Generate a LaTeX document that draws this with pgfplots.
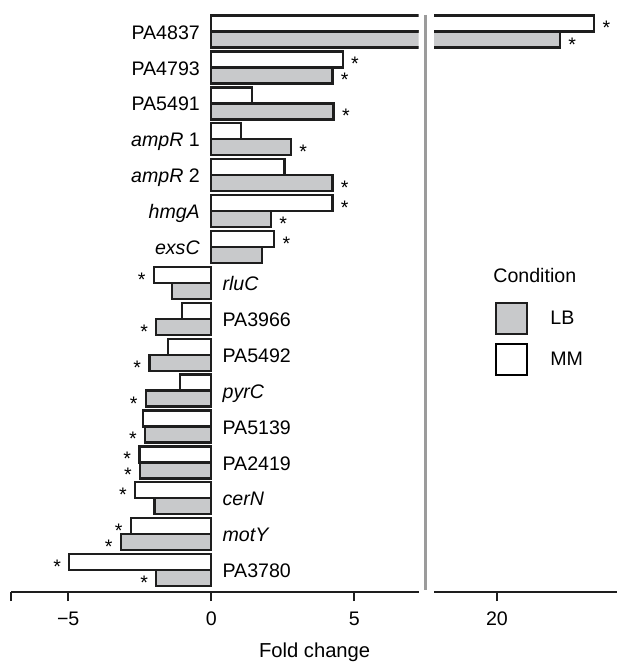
\documentclass[border=0pt]{standalone}
\usepackage{fontspec}
\setmainfont{Liberation Sans}
\usepackage{pgfplots}
\usepackage{pgfplotstable}
\pgfplotsset{compat=1.18}
\definecolor{barfill}{RGB}{200,201,203}
\definecolor{barline}{RGB}{30,30,30}
\definecolor{divider}{RGB}{155,155,155}

% fold change per gene, MM and LB; pos 15 = top row
\pgfplotstableread{
pos mm lb
15 23.4 22.2
14 4.60 4.24
13 1.43 4.28
12 1.04 2.79
11 2.56 4.24
10 4.24 2.09
9 2.20 1.77
8 -2.00 -1.37
7 -1.02 -1.92
6 -1.50 -2.16
5 -1.08 -2.28
4 -2.38 -2.31
3 -2.51 -2.48
2 -2.66 -1.98
1 -2.81 -3.16
0 -4.96 -1.92
}\genes

\pgfplotsset{
  panel/.style={
    x=14.3pt, y=17.95pt,
    ymin=-0.61, ymax=15.6,
    axis x line*=bottom, axis y line=none,
    ytick=\empty,
    axis line style={line width=1.25pt, draw=barline, -},
    major tick style={line width=1.25pt, draw=barline},
    tick align=outside, major tick length=4.5pt,
    xticklabel style={text=black, yshift=-2pt},
    clip=true,
  },
  mmbar/.style={xbar, bar width=0.446, bar shift=0.223, fill=white, draw=barline, line width=1.15pt},
  lbbar/.style={xbar, bar width=0.446, bar shift=-0.223, fill=barfill, draw=barline, line width=1.15pt},
  starpos/.style={draw=none, mark=none, nodes near coords={*},
    nodes near coords style={anchor=base west, inner sep=0pt, xshift=4pt, yshift=-5.7pt}},
  starneg/.style={draw=none, mark=none, nodes near coords={*},
    nodes near coords style={anchor=base east, inner sep=0pt, xshift=-4pt, yshift=-5.7pt}},
}

\begin{document}
\begin{tikzpicture}[font=\fontsize{9.8}{11.8}\selectfont]
% left panel
\begin{axis}[panel,
  at={(5.5pt,-296pt)}, anchor=south west,
  xmin=-7, xmax=7.25,
  xtick={-7,-5,0,5}, xticklabels={,−5,0,5},
  xlabel={\fontsize{10.1}{12}\selectfont Fold change},
  xlabel style={at={(axis description cs:0.745,0)}, anchor=center, yshift=-30pt},
]
\addplot[mmbar] table[x=mm, y=pos] {\genes};
\addplot[lbbar] table[x=lb, y=pos] {\genes};
% gene names
\addplot[draw=none, mark=none, point meta=explicit symbolic, nodes near coords,
  nodes near coords style={anchor=base east, inner sep=0pt, xshift=-5.5pt, yshift=-3.8pt}]
  coordinates {(0,15) [PA4837] (0,14) [PA4793] (0,13) [PA5491] (0,12) [\textit{ampR} 1]
    (0,11) [\textit{ampR} 2] (0,10) [\textit{hmgA}] (0,9) [\textit{exsC}]};
\addplot[draw=none, mark=none, point meta=explicit symbolic, nodes near coords,
  nodes near coords style={anchor=base west, inner sep=0pt, xshift=5.5pt, yshift=-3.8pt}]
  coordinates {(0,8) [\textit{rluC}] (0,7) [PA3966] (0,6) [PA5492] (0,5) [\textit{pyrC}]
    (0,4) [PA5139] (0,3) [PA2419] (0,2) [\textit{cerN}] (0,1) [\textit{motY}] (0,0) [PA3780]};
% significance stars (MM bars sit +0.223, LB bars -0.223)
\addplot[starpos] coordinates {(4.60,14.223) (4.24,10.223) (2.20,9.223)
  (4.24,13.777) (4.28,12.777) (2.79,11.777) (4.24,10.777) (2.09,9.777)};
\addplot[starneg] coordinates {(-2.00,8.223) (-2.51,3.223) (-2.66,2.223) (-2.81,1.223) (-4.96,0.223)
  (-1.92,6.777) (-2.16,5.777) (-2.28,4.777) (-2.31,3.777) (-2.48,2.777) (-3.16,0.777) (-1.92,-0.223)};
\end{axis}
% right panel: only PA4837 reaches it; bars left open at the break
\begin{axis}[panel,
  at={(217pt,-296pt)}, anchor=south west,
  xmin=17.8, xmax=24.2,
  xtick={20}, xticklabels={20},
  legend style={at={(axis description cs:0.333,0.557)}, anchor=north west,
    draw=none, fill=none, inner sep=0pt, row sep=4pt,
    nodes={inner sep=0pt},
    /tikz/every odd column/.append style={column sep=11pt}},
  legend cell align=left,
]
\addplot[fill=white, draw=barline, line width=1.15pt, line join=miter, forget plot]
  coordinates {(17.8,15.446) (23.4,15.446) (23.4,15.0) (17.8,15.0)};
\addplot[fill=barfill, draw=barline, line width=1.15pt, line join=miter, forget plot]
  coordinates {(17.8,15.0) (22.2,15.0) (22.2,14.554) (17.8,14.554)};
\addplot[starpos, forget plot] coordinates {(23.4,15.223) (22.2,14.777)};
\addlegendimage{empty legend}
\addlegendentry{\hspace*{-28.5pt}\raisebox{4.5pt}{Condition}}
\addlegendimage{legend image code/.code={\draw[fill=barfill, draw=barline, line width=1pt] (0pt,-7.75pt) rectangle (15.5pt,7.75pt);}}
\addlegendentry{LB}
\addlegendimage{legend image code/.code={\draw[fill=white, draw=black, line width=1pt] (0pt,-7.75pt) rectangle (15.5pt,7.75pt);}}
\addlegendentry{MM}
\end{axis}
\draw[divider, line width=1.5pt] (212.5pt,-7.5pt) -- (212.5pt,-295pt);
\pgfresetboundingbox
\path[use as bounding box] (0,0) rectangle (309pt,-331pt);
\end{tikzpicture}
\end{document}
